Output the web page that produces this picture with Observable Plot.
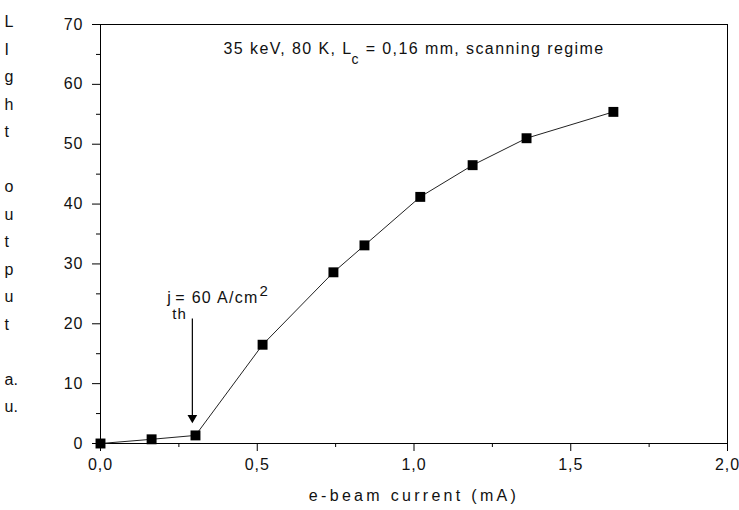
<!DOCTYPE html>
<html>
<head>
<meta charset="utf-8">
<script src="https://cdn.jsdelivr.net/npm/d3@7"></script>
<script src="https://cdn.jsdelivr.net/npm/@observablehq/plot@0.6"></script>
<style>
  body { margin: 0; background: #fff; }
  #chart svg { display: block; }
  g[aria-label="x-axis tick label"] text { letter-spacing: 1px; }
  g[aria-label="y-axis tick label"] text { letter-spacing: 1px; }
  g[aria-label="x-axis label"] text { letter-spacing: 3.3px; }
</style>
</head>
<body>
<div id="chart"></div>
<script>
// Data
const current = [0, 0.163, 0.303, 0.517, 0.743, 0.842, 1.02, 1.187, 1.359, 1.636];
const lightOutput = [0, 0.7, 1.35, 16.5, 28.6, 33.1, 41.2, 46.5, 51.0, 55.4];

const xTicks = [0, 0.5, 1.0, 1.5, 2.0];
const xTickLabels = ["0,0", "0,5", "1,0", "1,5", "2,0"];
const xMinorTicks = [0.25, 0.75, 1.25, 1.75];
const yTicks = [0, 10, 20, 30, 40, 50, 60, 70];
const yMinorTicks = [5, 15, 25, 35, 45, 55, 65];

const xLabel = "e-beam current (mA)";
const yLabel = "L\nI\ng\nh\nt\n\no\nu\nt\np\nu\nt\n\na.\nu.";

// title: "35 keV, 80 K, L_c = 0,16 mm, scanning regime"
const titleParts = ["35 keV, 80 K, L", "c", " = 0,16 mm, scanning regime"];
const titlePos = {x: 1.0, y: 66.0};

// annotation: "j_th = 60 A/cm^2"
const annotParts = ["j", "th", "= 60 A/cm", "2"];
const annotPos = {x: 0.213, y: 24.3};

const arrowX = 0.293;
const arrowTop = 20.8;
const arrowHeadY = 4.3;

const data = current.map((c, i) => ({current: c, light: lightOutput[i]}));

const chart = Plot.plot({
  width: 739,
  height: 510,
  marginLeft: 100,
  marginRight: 12,
  marginTop: 24,
  marginBottom: 67,
  style: {
    fontFamily: "'Liberation Sans', Arial, sans-serif",
    fontSize: "16px",
    color: "#111",
    background: "#fff",
    overflow: "visible"
  },
  x: {domain: [0, 2]},
  y: {domain: [0, 70]},
  marks: [
    Plot.frame({stroke: "#000", strokeWidth: 1}),
    Plot.axisY(yTicks, {tickSize: 8, tickPadding: 9, label: null, stroke: "#000", strokeOpacity: 1, fontSize: 16}),
    Plot.axisY(yMinorTicks, {tickSize: 4, text: null, label: null, stroke: "#000", strokeOpacity: 1}),
    Plot.axisX(xTicks, {
      tickSize: 8, tickPadding: 7, stroke: "#000", strokeOpacity: 1, fontSize: 16,
      tickFormat: (d) => xTickLabels[xTicks.indexOf(d)],
      label: xLabel, labelAnchor: "center", labelArrow: "none", labelOffset: 57
    }),
    Plot.axisX(xMinorTicks, {tickSize: 4, text: null, label: null, stroke: "#000", strokeOpacity: 1}),
    Plot.line(data, {x: "current", y: "light", stroke: "#222", strokeWidth: 1}),
    Plot.dot(data, {x: "current", y: "light", symbol: "square", r: 5.6, fill: "#000", stroke: "none"}),
    // threshold arrow
    Plot.ruleX([arrowX], {y1: arrowTop, y2: arrowHeadY, stroke: "#000", strokeWidth: 1.2}),
    Plot.dot([{x: arrowX, y: arrowHeadY}], {x: "x", y: "y", symbol: "triangle", rotate: 180, r: 3.6, fill: "#000", stroke: "none"}),
    // annotation j_th = 60 A/cm^2 (rich text built below)
    Plot.text([annotPos], {x: "x", y: "y", text: () => annotParts.join(""), textAnchor: "start", fontSize: 16, fill: "#111"}),
    // title (rich text built below)
    Plot.text([titlePos], {x: "x", y: "y", text: () => titleParts.join(""), textAnchor: "middle", fontSize: 16, fill: "#111"}),
    // vertical stacked y label
    Plot.text([yLabel], {
      frameAnchor: "top-left", dx: -96, dy: -17, text: (d) => d,
      textAnchor: "start", lineAnchor: "top", lineHeight: 1.72, fontSize: 16, fill: "#111"
    })
  ]
});

function richText(content, spacing, spans) {
  const t = d3.select(chart).selectAll("text").filter(function () {
    return this.textContent === content;
  });
  t.style("letter-spacing", spacing + "px");
  t.text(null);
  spans.forEach((s) => {
    const ts = t.append("tspan").text(s.text);
    if (s.dx) ts.attr("dx", s.dx);
    if (s.dy) ts.attr("dy", s.dy);
    if (s.size) ts.attr("font-size", s.size);
  });
}

richText(titleParts.join(""), 1.4, [
  {text: titleParts[0]},
  {text: titleParts[1], dx: -1, dy: 10, size: 14},
  {text: titleParts[2], dy: -10}
]);
richText(annotParts.join(""), 1.3, [
  {text: annotParts[0]},
  {text: annotParts[1], dx: 0, dy: 16, size: 15},
  {text: annotParts[2], dx: -12, dy: -16},
  {text: annotParts[3], dx: 1, dy: -7, size: 15}
]);

document.getElementById("chart").append(chart);
</script>
</body>
</html>
